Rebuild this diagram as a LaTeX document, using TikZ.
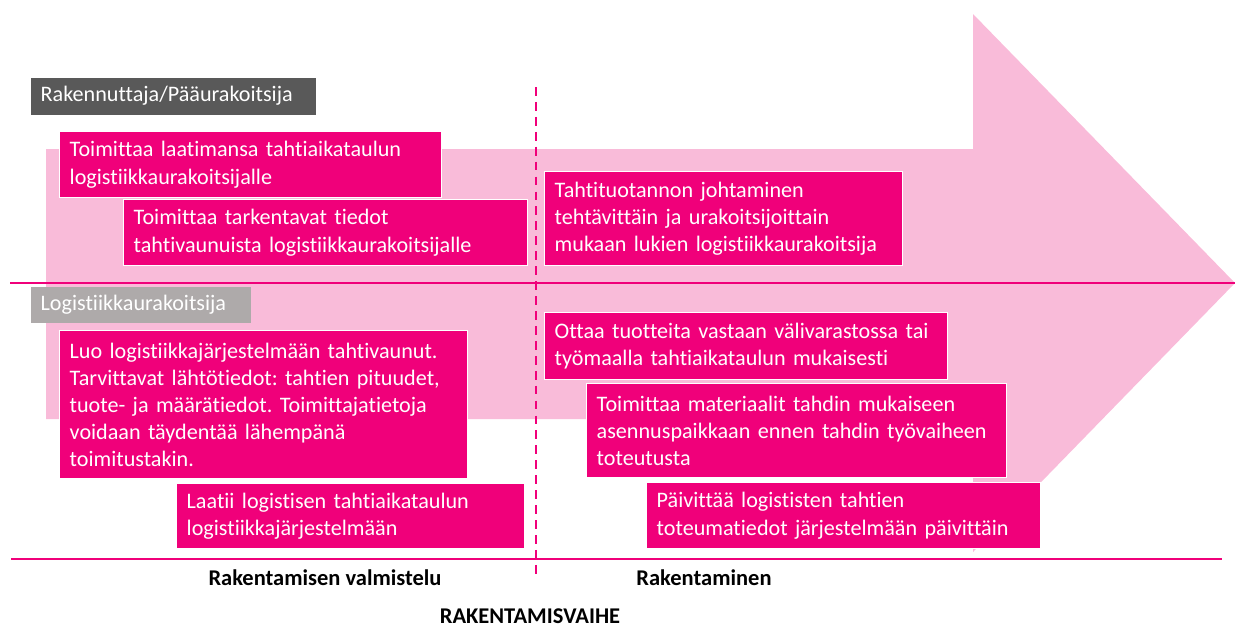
\documentclass[tikz,border=0pt]{standalone}
\usepackage{fontspec}
\setmainfont{Carlito}[Ligatures=CommonOff]
\frenchspacing
\definecolor{rosa}{RGB}{240,0,122}
\definecolor{rosaclaro}{RGB}{249,187,217}
\definecolor{grisoscuro}{RGB}{89,89,89}
\definecolor{grisclaro}{RGB}{174,170,170}
\tikzset{
  tarea/.style={fill=rosa, draw=white, line width=0.8pt, text=white, anchor=north west,
    align=left, inner xsep=0.2cm, inner ysep=0pt, font=\fontsize{12.6}{15.4}\selectfont},
  rol/.style={tarea, draw=none},
  fase/.style={font=\bfseries\fontsize{12.8}{14}\selectfont, text=black, inner sep=0pt},
}
\begin{document}
\begin{tikzpicture}[x=0.02cm, y=-0.02cm]
    \useasboundingbox (0,0) rectangle (1235,627);

    % Dibuja la flecha de fondo
    \fill[rosaclaro] (46,149) -- (973,149) -- (973,14) -- (1235,283) -- (973,552)
        -- (973,419) -- (46,419) -- cycle;

    % Dibuja las lineas
    \coordinate (l1a) at (10,283);
    \coordinate (l1b) at (1235,283);
    \coordinate (l2a) at (11,559);
    \coordinate (l2b) at (1222,559);
    \coordinate (d1) at (536,87);
    \coordinate (d2) at (536,577);
    \draw[rosa, line width=1.4pt] (l1a) -- (l1b);
    \draw[rosa, line width=1.4pt] (l2a) -- (l2b);
    \draw[rosa, line width=1.2pt, dash pattern=on 5pt off 3.5pt] (d1) -- (d2);

    % Dibuja los roles
    \node[rol, fill=grisoscuro, text width=5.3cm, minimum height=0.74cm] (rakennuttaja)
        at (30,77) {Rakennuttaja/Pääurakoitsija};
    \node[rol, fill=grisclaro, text width=4.0cm, minimum height=0.72cm] (logistiikka)
        at (30,286) {Logistiikkaurakoitsija};

    % Dibuja las tareas
    \node[tarea, text width=7.24cm, minimum height=1.32cm] (toimittaa1) at (59,131)
        {Toimittaa laatimansa tahtiaikataulun\\logistiikkaurakoitsijalle};
    \node[tarea, text width=7.68cm, minimum height=1.32cm] (toimittaa2) at (123,199)
        {Toimittaa tarkentavat tiedot\\tahtivaunuista logistiikkaurakoitsijalle};
    \node[tarea, text width=6.76cm, minimum height=1.88cm] (johtaminen) at (544,171)
        {Tahtituotannon johtaminen\\tehtävittäin ja urakoitsijoittain\\mukaan lukien logistiikkaurakoitsija};
    \node[tarea, text width=7.76cm, minimum height=2.96cm] (luo) at (59,330)
        {Luo logistiikkajärjestelmään tahtivaunut.\\Tarvittavat lähtötiedot: tahtien pituudet,\\tuote- ja määrätiedot. Toimittajatietoja\\voidaan täydentää lähempänä\\toimitustakin.};
    \node[tarea, text width=6.56cm, minimum height=1.3cm] (laatii) at (176,483)
        {Laatii logistisen tahtiaikataulun\\logistiikkajärjestelmään};
    \node[tarea, text width=7.66cm, minimum height=1.34cm] (ottaa) at (544,312)
        {Ottaa tuotteita vastaan välivarastossa tai\\työmaalla tahtiaikataulun mukaisesti};
    \node[tarea, text width=8.0cm, minimum height=1.88cm] (materiaalit) at (586,383)
        {Toimittaa materiaalit tahdin mukaiseen\\asennuspaikkaan ennen tahdin työvaiheen\\toteutusta};
    \node[tarea, text width=7.48cm, minimum height=1.32cm] (paivittaa) at (646,482)
        {Päivittää logististen tahtien\\toteumatiedot järjestelmään päivittäin};

    % Dibuja las fases
    \node[fase] (valmistelu) at (325,578) {Rakentamisen valmistelu};
    \node[fase] (rakentaminen) at (704,578) {Rakentaminen};
    \node[fase] (vaihe) at (530,616) {RAKENTAMISVAIHE};
\end{tikzpicture}
\end{document}
